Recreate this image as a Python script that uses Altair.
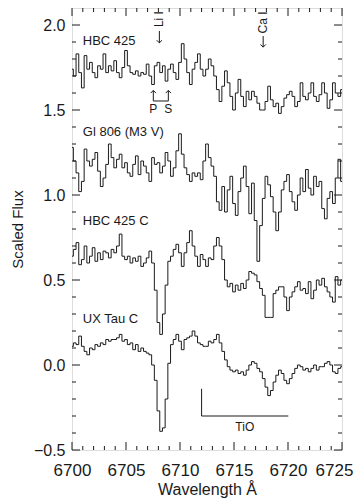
import altair as alt
import pandas as pd

# ---------------- data ----------------
WAVE_START = 6700.0
WAVE_STEP = 0.25

HBC425 = [1.74, 1.70, 1.83, 1.72, 1.63, 1.82, 1.74, 1.78, 1.72, 1.69,
          1.76, 1.74, 1.83, 1.72, 1.76, 1.73, 1.79, 1.72, 1.69, 1.75,
          1.85, 1.76, 1.72, 1.71, 1.73, 1.70, 1.72, 1.71, 1.77, 1.70,
          1.65, 1.76, 1.78, 1.72, 1.76, 1.67, 1.74, 1.77, 1.72, 1.68,
          1.78, 1.89, 1.80, 1.72, 1.65, 1.74, 1.78, 1.83, 1.74, 1.70,
          1.74, 1.80, 1.76, 1.70, 1.62, 1.55, 1.64, 1.73, 1.66, 1.58,
          1.50, 1.60, 1.68, 1.58, 1.52, 1.61, 1.56, 1.61, 1.58, 1.54,
          1.50, 1.50, 1.55, 1.64, 1.56, 1.52, 1.54, 1.48, 1.52, 1.57,
          1.59, 1.61, 1.58, 1.52, 1.55, 1.66, 1.58, 1.56, 1.60, 1.66,
          1.58, 1.55, 1.59, 1.66, 1.60, 1.51, 1.56, 1.66, 1.60, 1.58,
          1.62]

GL806 = [1.28, 1.20, 1.13, 1.02, 1.08, 1.27, 1.20, 1.17, 1.21, 1.25,
         1.14, 1.05, 1.10, 1.18, 1.30, 1.22, 1.16, 1.21, 1.24, 1.16,
         1.19, 1.13, 1.11, 1.18, 1.23, 1.12, 1.20, 1.17, 1.13, 1.08,
         1.22, 1.18, 1.19, 1.13, 1.17, 1.25, 1.20, 1.11, 1.16, 1.26,
         1.36, 1.24, 1.16, 1.12, 1.08, 1.13, 1.11, 1.13, 1.09, 1.20,
         1.30, 1.22, 1.17, 1.11, 0.96, 0.91, 1.05, 0.90, 1.03, 1.11,
         0.95, 0.88, 1.02, 1.10, 1.17, 1.05, 0.89, 1.07, 0.85, 0.61,
         0.82, 0.98, 1.11, 1.06, 0.99, 0.90, 0.79, 0.90, 1.03, 1.08,
         1.12, 1.02, 0.96, 0.91, 1.00, 1.10, 1.02, 1.15, 1.04, 1.00,
         1.11, 1.05, 1.08, 0.92, 0.86, 0.98, 1.02, 0.95, 1.10, 1.21,
         1.08]

HBC425C = [0.64, 0.68, 0.72, 0.59, 0.62, 0.70, 0.60, 0.64, 0.69, 0.61,
           0.66, 0.62, 0.67, 0.66, 0.63, 0.68, 0.66, 0.70, 0.77, 0.64,
           0.62, 0.64, 0.60, 0.63, 0.61, 0.64, 0.58, 0.60, 0.63, 0.67,
           0.60, 0.44, 0.25, 0.18, 0.30, 0.47, 0.61, 0.64, 0.68, 0.71,
           0.66, 0.58, 0.66, 0.72, 0.79, 0.70, 0.64, 0.58, 0.65, 0.62,
           0.58, 0.63, 0.62, 0.70, 0.75, 0.70, 0.62, 0.50, 0.46, 0.48,
           0.43, 0.47, 0.44, 0.48, 0.45, 0.50, 0.55, 0.54, 0.53, 0.49,
           0.45, 0.41, 0.28, 0.28, 0.28, 0.42, 0.44, 0.46, 0.46, 0.40,
           0.32, 0.40, 0.43, 0.46, 0.49, 0.44, 0.45, 0.42, 0.49, 0.39,
           0.44, 0.50, 0.47, 0.51, 0.46, 0.43, 0.40, 0.37, 0.52, 0.47,
           0.50]

UXTAUC = [0.11, 0.13, 0.12, 0.17, 0.11, 0.08, 0.06, 0.10, 0.09, 0.12,
          0.11, 0.13, 0.12, 0.15, 0.14, 0.15, 0.15, 0.16, 0.18, 0.14,
          0.15, 0.12, 0.13, 0.09, 0.12, 0.08, 0.10, 0.08, 0.07, 0.06,
          0.00, -0.09, -0.27, -0.39, -0.37, -0.20, 0.01, 0.12, 0.15, 0.18,
          0.14, 0.09, 0.15, 0.16, 0.17, 0.20, 0.17, 0.13, 0.12, 0.11,
          0.11, 0.14, 0.13, 0.15, 0.18, 0.13, 0.08, 0.03, -0.01, -0.03,
          -0.04, -0.03, -0.05, -0.04, -0.06, -0.03, 0.00, 0.02, 0.01, -0.02,
          -0.04, -0.08, -0.13, -0.18, -0.15, -0.10, -0.06, -0.03, -0.05, -0.09,
          -0.11, -0.08, -0.05, -0.02, 0.00, -0.01, -0.03, -0.02, -0.04, -0.02,
          0.00, -0.03, -0.01, -0.01, 0.01, 0.02, 0.00, -0.04, -0.05, -0.02,
          -0.01]

SPECTRA_NAMES = ["HBC 425", "Gl 806 (M3 V)", "HBC 425 C", "UX Tau C"]
SPECTRA_VALUES = [HBC425, GL806, HBC425C, UXTAUC]

# spectrum labels (left edge wavelength, flux)
LABEL_TEXT = ["HBC 425", "Gl 806 (M3 V)", "HBC 425 C", "UX Tau C"]
LABEL_X = [6701.0, 6701.0, 6701.0, 6701.0]
LABEL_Y = [1.905, 1.37, 0.85, 0.27]

# line identifications
LINE_TEXT = ["Li I", "Ca I"]
LINE_X = [6708.09, 6717.7]
LINE_TEXT_Y = [2.035, 2.015]

# tick positions
X_MAJOR = [6700, 6705, 6710, 6715, 6720, 6725]
X_MINOR = [v for v in range(6701, 6725) if v % 5 != 0]
Y_MAJOR = [-0.5, 0.0, 0.5, 1.0, 1.5, 2.0]
Y_MINOR = [round(-0.4 + 0.1 * i, 1) for i in range(25)]
Y_MINOR = [v for v in Y_MINOR if abs(v * 2 - round(v * 2)) > 1e-6]

# ---------------- tables ----------------
rows = []
for name, vals in zip(SPECTRA_NAMES, SPECTRA_VALUES):
    for i, v in enumerate(vals):
        rows.append({"name": name, "wave": WAVE_START + WAVE_STEP * i, "flux": v})
spec_df = pd.DataFrame(rows)

W, H = 270, 442
FONT = "Liberation Sans"
INK = "#1a1a1a"

xs = alt.Scale(domain=[6700, 6725], nice=False, zero=False)
ys = alt.Scale(domain=[-0.5, 2.1], nice=False, zero=False)

x_axis = alt.Axis(values=X_MAJOR, format="d", ticks=False, domain=False, grid=False,
                  labelFlush=False, labelOverlap=False,
                  labelOffset={"condition": {"test": "datum.value >= 6725", "value": -8},
                               "value": 0},
                  labelFontSize=17, labelFont=FONT, labelColor=INK, labelPadding=12,
                  title="Wavelength Å", titleFontSize=16, titleFont=FONT,
                  titleFontWeight="normal", titleColor=INK, titlePadding=3)
y_axis = alt.Axis(values=Y_MAJOR, format=".1f", ticks=False, domain=False, grid=False,
                  labelFlush=False, labelOverlap=False,
                  labelFontSize=16, labelFont=FONT, labelColor=INK, labelPadding=7,
                  title="Scaled Flux", titleFontSize=15, titleFont=FONT,
                  titleFontWeight="normal", titleColor=INK, titlePadding=8)

spectra = alt.Chart(spec_df).mark_line(interpolate="step", color=INK, strokeWidth=1).encode(
    x=alt.X("wave:Q", scale=xs, axis=x_axis),
    y=alt.Y("flux:Q", scale=ys, axis=y_axis),
    detail="name:N",
)

labels = alt.Chart(pd.DataFrame({"t": LABEL_TEXT, "x": LABEL_X, "y": LABEL_Y})).mark_text(
    align="left", baseline="middle", fontSize=13, font=FONT, color=INK
).encode(x=alt.X("x:Q", scale=xs), y=alt.Y("y:Q", scale=ys), text="t:N")

line_ids = alt.Chart(pd.DataFrame({"t": LINE_TEXT, "x": LINE_X, "y": LINE_TEXT_Y})).mark_text(
    angle=270, align="center", baseline="middle", fontSize=12, font=FONT, color=INK
).encode(x=alt.X("x:Q", scale=xs), y=alt.Y("y:Q", scale=ys), text="t:N")

# arrows and brackets (annotation segments in data units)
SEG_X = [6708.09, 6717.7, 6707.53, 6708.92, 6707.53, 6712.0, 6712.0]
SEG_X2 = [6708.09, 6717.7, 6707.53, 6708.92, 6708.92, 6712.0, 6720.03]
SEG_Y = [1.965, 1.935, 1.553, 1.553, 1.553, -0.14, -0.30]
SEG_Y2 = [1.895, 1.870, 1.615, 1.615, 1.553, -0.30, -0.30]
segs = alt.Chart(pd.DataFrame({"x": SEG_X, "x2": SEG_X2, "y": SEG_Y, "y2": SEG_Y2})).mark_rule(
    color=INK, strokeWidth=1
).encode(x=alt.X("x:Q", scale=xs), x2="x2:Q", y=alt.Y("y:Q", scale=ys), y2="y2:Q")

heads_down = alt.Chart(pd.DataFrame({"x": [6708.09, 6717.7], "y": [1.895, 1.870]})).mark_point(
    shape="M -1 -1 L 0 0 L 1 -1", size=28, filled=False, color=INK, strokeWidth=1, opacity=1
).encode(x=alt.X("x:Q", scale=xs), y=alt.Y("y:Q", scale=ys))
heads_up = alt.Chart(pd.DataFrame({"x": [6707.53, 6708.92], "y": [1.615, 1.615]})).mark_point(
    shape="M -1 1 L 0 0 L 1 1", size=28, filled=False, color=INK, strokeWidth=1, opacity=1
).encode(x=alt.X("x:Q", scale=xs), y=alt.Y("y:Q", scale=ys))

small_text = alt.Chart(pd.DataFrame({"t": ["P", "S", "TiO"],
                                     "x": [6707.53, 6708.92, 6716.0],
                                     "y": [1.505, 1.505, -0.365]})).mark_text(
    align="center", baseline="middle", fontSize=12, font=FONT, color=INK
).encode(x=alt.X("x:Q", scale=xs), y=alt.Y("y:Q", scale=ys), text="t:N")

# inward frame ticks
def xticks(vals, length):
    d = pd.DataFrame({"v": vals})
    bot = alt.Chart(d).mark_rule(color=INK, strokeWidth=1).encode(
        x=alt.X("v:Q", scale=xs), y=alt.value(H), y2=alt.value(H - length))
    top = alt.Chart(d).mark_rule(color=INK, strokeWidth=1).encode(
        x=alt.X("v:Q", scale=xs), y=alt.value(0), y2=alt.value(length))
    return [bot, top]

def yticks(vals, length):
    d = pd.DataFrame({"v": vals})
    left = alt.Chart(d).mark_rule(color=INK, strokeWidth=1).encode(
        y=alt.Y("v:Q", scale=ys), x=alt.value(0), x2=alt.value(length))
    right = alt.Chart(d).mark_rule(color=INK, strokeWidth=1).encode(
        y=alt.Y("v:Q", scale=ys), x=alt.value(W), x2=alt.value(W - length))
    return [left, right]

tick_layers = xticks(X_MAJOR, 8) + xticks(X_MINOR, 4) + yticks(Y_MAJOR, 8) + yticks(Y_MINOR, 4)

chart = alt.layer(
    spectra, labels, line_ids, segs, heads_down, heads_up, small_text, *tick_layers
).properties(
    width=W, height=H,
    autosize=alt.AutoSizeParams(type="none"),
    padding={"left": 64, "top": 0, "right": 12, "bottom": 50},
).configure_view(
    stroke=INK, strokeWidth=1
).configure(background="white")

chart.save("out.html", embed_options={"renderer": "svg", "actions": False})
